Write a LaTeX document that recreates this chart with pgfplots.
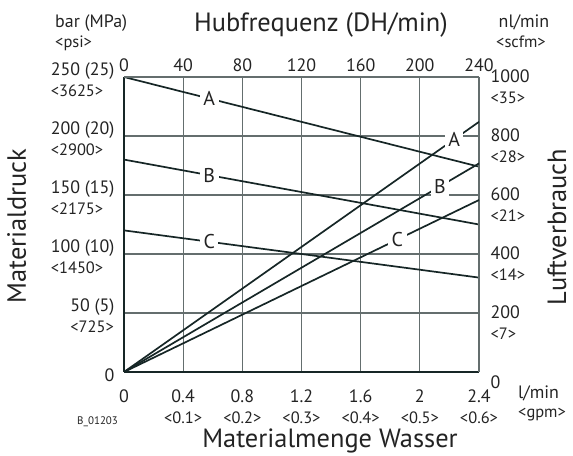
\documentclass[border=0pt]{standalone}
\usepackage{fontspec}
\setmainfont{PT Sans}
\usepackage{pgfplots}
\pgfplotsset{compat=1.18}
\definecolor{gridgray}{RGB}{100,110,110}
\definecolor{linedark}{RGB}{22,38,38}
\definecolor{txt}{RGB}{35,35,35}
\newcommand{\tl}[1]{{\fontsize{18}{21}\selectfont #1}}
\newcommand{\sub}[1]{{\fontsize{16.5}{18}\selectfont #1}}

\begin{document}
\begin{tikzpicture}[x=1bp,y=1bp]
\path[use as bounding box] (-124,-84) rectangle (449,372);
\tikzset{
  lin/.style={linedark, line width=1.7bp},
  lab/.style={fill=white, inner sep=3.5bp, text=txt, font=\fontsize{20}{22}\selectfont},
}
\pgfplotsset{
  base/.style={
    scale only axis, width=355bp, height=295bp,
    at={(0,0)}, anchor=south west,
    major tick length=0pt,
    every tick label/.append style={font=\fontsize{18}{21}\selectfont, text=txt},
  },
}
% Materialdruck (bottom / left)
\begin{axis}[base,
  xmin=0, xmax=2.4, ymin=0, ymax=250,
  axis x line*=bottom, axis y line*=left,
  axis line style={linedark, line width=1.3bp},
  grid=major, grid style={gridgray, line width=1.2bp},
  xtick={0,0.4,0.8,1.2,1.6,2,2.4},
  xticklabels={\tl{0},{\tl{0.4}\\\sub{<0.1>}},{\tl{0.8}\\\sub{<0.2>}},{\tl{1.2}\\\sub{<0.3>}},{\tl{1.6}\\\sub{<0.4>}},{\tl{2}\\\sub{<0.5>}},{\tl{2.4}\\\sub{<0.6>}}},
  xticklabel style={align=center, anchor=north, yshift=-14bp, font=\fontsize{18}{21}\selectfont},
  ytick={0,50,100,150,200,250},
  yticklabels={\tl{0},{\tl{50 (5)}\\\sub{<725>}},{\tl{100 (10)}\\\sub{<1450>}},{\tl{150 (15)}\\\sub{<2175>}},{\tl{200 (20)}\\\sub{<2900>}},{\tl{250 (25)}\\\sub{<3625>}}},
  yticklabel style={align=left, anchor=east, xshift=-6bp, yshift=-3bp, font=\fontsize{18}{21}\selectfont},
]
\addplot[lin, no marks] coordinates {(0,250) (2.4,174)} node[lab,pos=0.24]{A};
\addplot[lin, no marks] coordinates {(0,180) (2.4,125)} node[lab,pos=0.24]{B};
\addplot[lin, no marks] coordinates {(0,120) (2.4,80)} node[lab,pos=0.24]{C};
\end{axis}
% Luftverbrauch (top / right)
\begin{axis}[base,
  xmin=0, xmax=240, ymin=0, ymax=1000,
  axis x line*=top, axis y line*=right,
  axis line style={gridgray, line width=1.2bp},
  xtick={0,40,80,120,160,200,240},
  xticklabels={\tl{0},\tl{40},\tl{80},\tl{120},\tl{160},\tl{200},\tl{240}},
  xticklabel style={anchor=south, yshift=2bp, font=\fontsize{18}{21}\selectfont},
  ytick={0,200,400,600,800,1000},
  yticklabels={\tl{0},{\tl{200}\\\sub{<7>}},{\tl{400}\\\sub{<14>}},{\tl{600}\\\sub{<21>}},{\tl{800}\\\sub{<28>}},{\tl{1000}\\\sub{<35>}}},
  yticklabel style={align=left, anchor=west, xshift=8bp, yshift=-10bp, font=\fontsize{18}{21}\selectfont},
]
\addplot[lin, no marks] coordinates {(0,0) (240,848)} node[lab,pos=0.93]{A};
\addplot[lin, no marks] coordinates {(0,0) (240,707)} node[lab,pos=0.89]{B};
\addplot[lin, no marks] coordinates {(0,0) (240,583)} node[lab,pos=0.77]{C};
\end{axis}
% titles and units
\begin{scope}[every node/.style={text=txt}]
\node[font=\fontsize{26.5}{30}\selectfont, anchor=base] at (197,340) {Hubfrequenz (DH/min)};
\node[font=\fontsize{26.5}{30}\selectfont, anchor=base] at (206,-76) {Materialmenge Wasser};
\node[font=\fontsize{26.5}{30}\selectfont, rotate=90, anchor=base] at (-98,146) {Materialdruck};
\node[font=\fontsize{26.5}{30}\selectfont, rotate=90, anchor=base, inner sep=0] at (442,145) {Luftverbrauch};
\node[anchor=west, inner sep=0] at (-69,349) {\tl{bar (MPa)}};
\node[anchor=west, inner sep=0] at (-69,329) {\sub{<psi>}};
\node[inner sep=0] at (400,350) {\tl{nl/min}};
\node[inner sep=0] at (397,330) {\sub{<scfm>}};
\node[anchor=west, inner sep=0] at (394,-21) {\tl{l/min}};
\node[anchor=west, inner sep=0] at (394,-43) {\sub{<gpm>}};
\node[font=\fontsize{11}{13}\selectfont, anchor=west, inner sep=0] at (-47,-50) {B\_01203};
\end{scope}
\end{tikzpicture}
\end{document}
